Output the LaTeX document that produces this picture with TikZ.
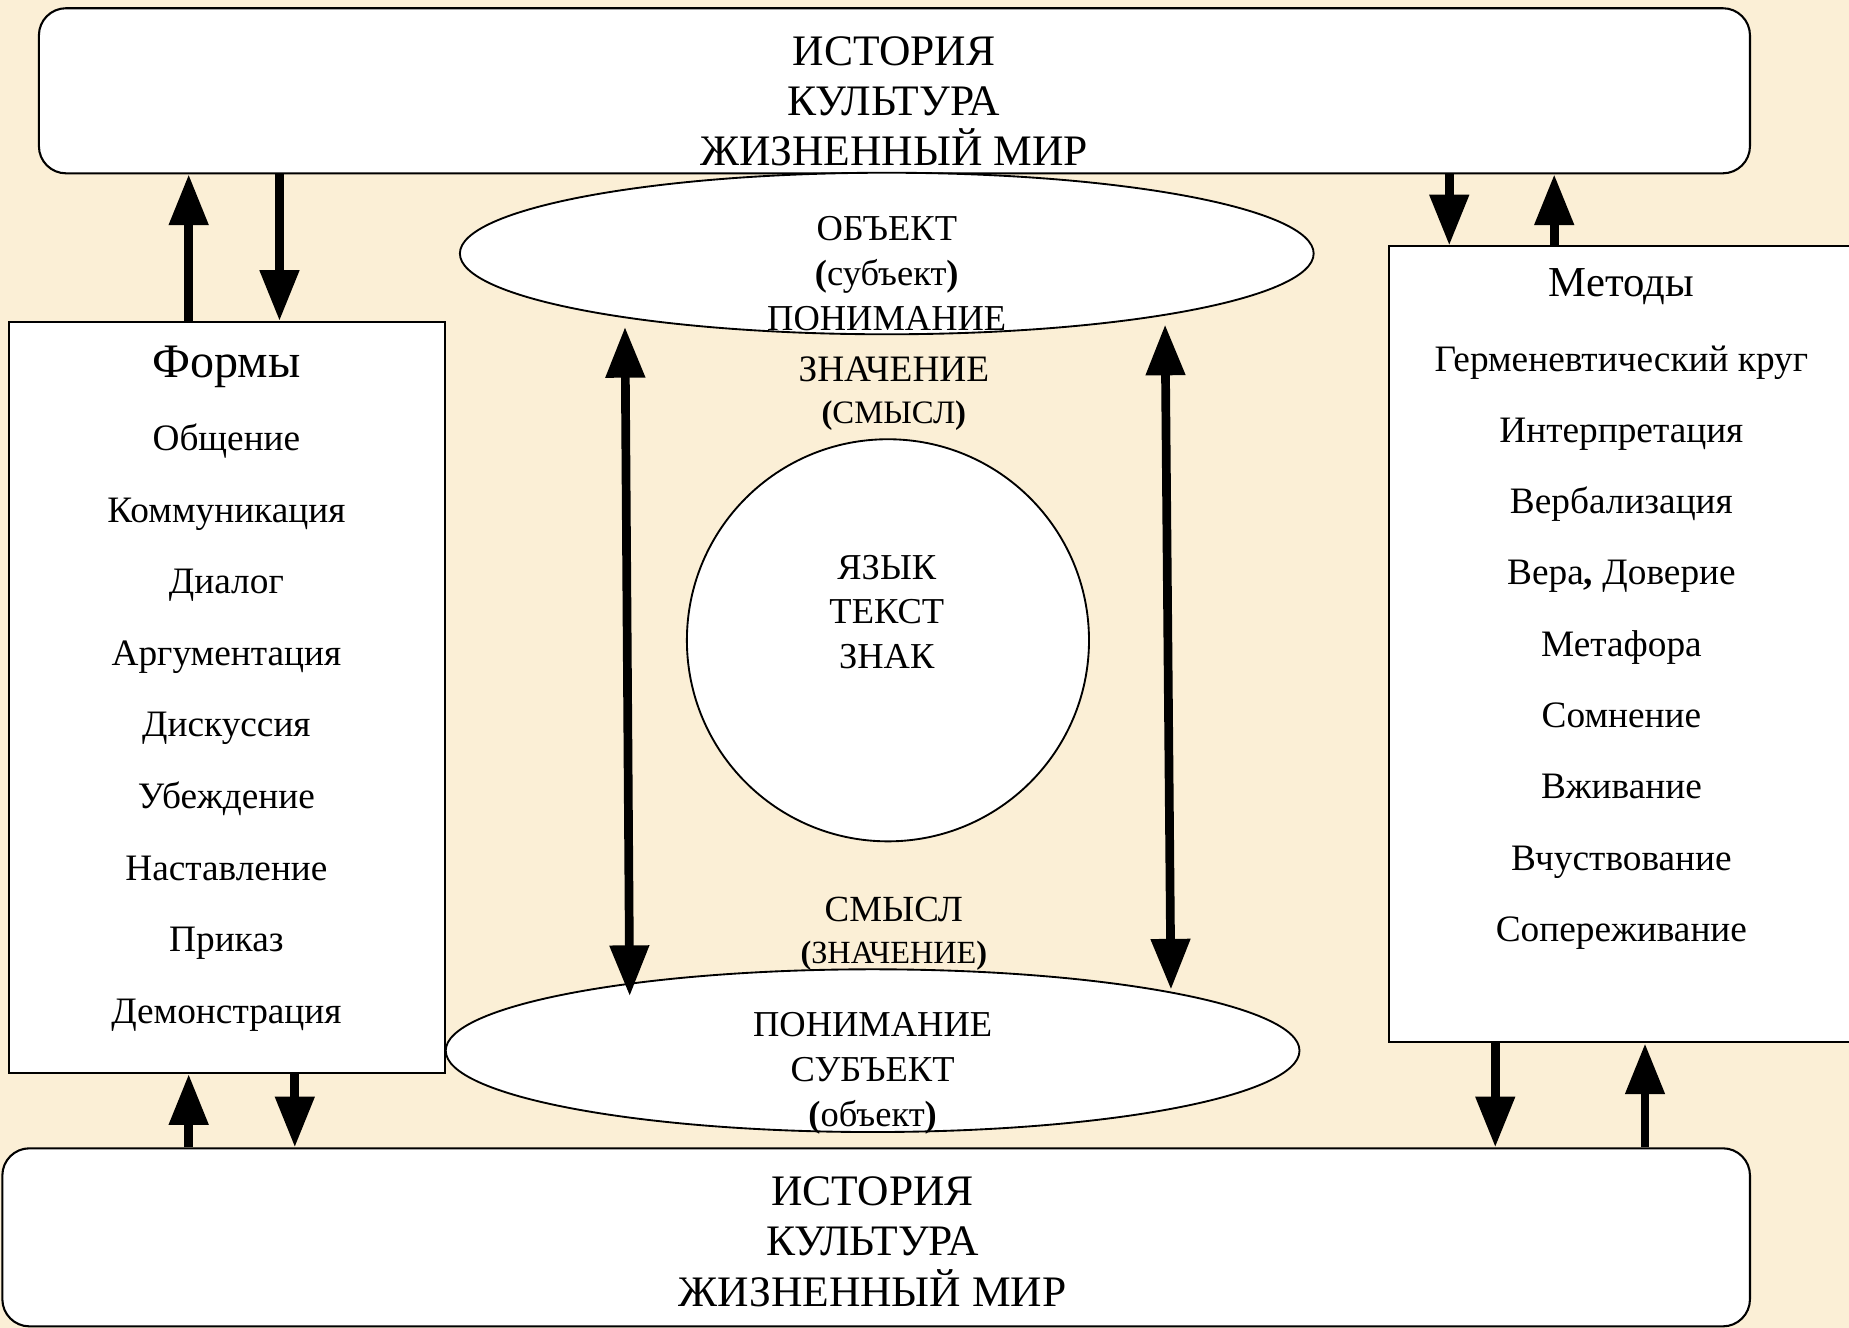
\documentclass[tikz,border=0pt]{standalone}
\usepackage{fontspec}
\setmainfont{Liberation Serif}
\usetikzlibrary{arrows.meta, shapes.geometric}
\definecolor{fon}{RGB}{251,239,214}

\begin{document}
\begin{tikzpicture}[
	blok/.style={draw, line width=0.5pt, fill=white, rounded corners=0.23cm, inner sep=0pt},
	kadr/.style={draw, line width=0.5pt, fill=white, inner sep=0pt},
	oval/.style={draw, ellipse, line width=0.45pt, fill=white, inner sep=0pt, minimum width=7.24cm, minimum height=1.37cm},
	tekst/.style={align=center, inner sep=0pt, font=\fontsize{8.8}{10.8}\selectfont},
	strelka/.style={line width=2.1pt, -{Triangle[length=0.43cm,width=0.32cm]}},
	dvoinaya/.style={strelka, {Triangle[length=0.43cm,width=0.32cm]}-{Triangle[length=0.43cm,width=0.32cm]}}
	]
			
			% Фон
			\fill[fon] (0,0) rectangle (15.68,11.26);
			\useasboundingbox (0,0) rectangle (15.68,11.26);
			
			% Блоки
			\node[blok, minimum width=14.51cm, minimum height=1.40cm] (IV) at (7.585,10.49) {};
			\node[blok, minimum width=14.82cm, minimum height=1.51cm] (IN) at (7.43,0.767) {};
			\node[kadr, minimum width=3.69cm, minimum height=6.37cm] (F) at (1.925,5.345) {};
			\node[kadr, minimum width=4.4cm, minimum height=6.75cm] (M) at (13.98,5.795) {};
			
			% Овалы и круг
			\node[oval] (O) at (7.52,9.11) {};
			\node[oval, minimum height=1.38cm] (S) at (7.40,2.35) {};
			\node[draw, circle, fill=white, line width=0.45pt, minimum size=3.41cm, inner sep=0pt] (Y) at (7.53,5.83) {};
			
			% Надписи
			\node[tekst, font=\fontsize{10.5}{12.1}\selectfont] (IVt) at (7.58,10.40) {ИСТОРИЯ\\КУЛЬТУРА\\ЖИЗНЕННЫЙ МИР};
			\node[tekst, font=\fontsize{10.5}{12.1}\selectfont] (INt) at (7.40,0.73) {ИСТОРИЯ\\КУЛЬТУРА\\ЖИЗНЕННЫЙ МИР};
			\node[tekst] (Ot) at (7.52,8.94) {ОБЪЕКТ\\\textbf{(}субъект\textbf{)}\\ПОНИМАНИЕ};
			\node[tekst, font=\fontsize{9}{10.2}\selectfont] (Z1) at (7.58,7.92) {ЗНАЧЕНИЕ\\{\fontsize{7.9}{10.2}\selectfont\textbf{(}СМЫСЛ\textbf{)}}};
			\node[tekst] (Yt) at (7.52,6.07) {ЯЗЫК\\ТЕКСТ\\ЗНАК};
			\node[tekst, font=\fontsize{8.9}{10}\selectfont] (Z2) at (7.58,3.34) {СМЫСЛ\\{\fontsize{7.8}{10}\selectfont\textbf{(}ЗНАЧЕНИЕ\textbf{)}}};
			\node[tekst] (St) at (7.40,2.16) {ПОНИМАНИЕ\\СУБЪЕКТ\\\textbf{(}объект\textbf{)}};
			
			% Формы
			\node[tekst, font=\fontsize{11.6}{13}\selectfont] (Ft) at (1.92,8.15) {Формы};
			\node[tekst, font=\fontsize{9}{17.27}\selectfont] (Fs) at (1.92,5.09) {Общение\\Коммуникация\\Диалог\\Аргументация\\Дискуссия\\Убеждение\\Наставление\\Приказ\\Демонстрация};
			
			% Методы
			\node[tekst, font=\fontsize{10.3}{12}\selectfont] (Mt) at (13.75,8.83) {Методы};
			\node[tekst, font=\fontsize{9}{17.2}\selectfont] (Ms) at (13.75,5.77) {Герменевтический  круг\\Интерпретация\\Вербализация\\Вера\textbf{,} Доверие\\Метафора\\Сомнение\\Вживание\\Вчуствование\\Сопереживание};
			
			% Стрелки слева
			\draw[strelka] (F.north -| 1.60,0) -- (IV.south -| 1.60,0);
			\draw[strelka] (IV.south -| 2.37,0) -- (F.north -| 2.37,0);
			\draw[strelka] (IN.north -| 1.60,0) -- (F.south -| 1.60,0);
			\draw[strelka] (F.south -| 2.50,0) -- (IN.north -| 2.50,0);
			
			% Стрелки справа
			\draw[strelka] (IV.south -| 12.29,0) -- (M.north -| 12.29,0);
			\draw[strelka] (M.north -| 13.18,0) -- (IV.south -| 13.18,0);
			\draw[strelka] (M.south -| 12.68,0) -- (IN.north -| 12.68,0);
			\draw[strelka] (IN.north -| 13.95,0) -- (M.south -| 13.95,0);
			
			% Стрелки в центре
			\draw[dvoinaya] ([xshift=-2.22cm, yshift=0.07cm]O.south) -- ([xshift=-2.06cm, yshift=-0.235cm]S.north);
			\draw[dvoinaya] ([xshift=2.36cm, yshift=0.09cm]O.south) -- ([xshift=2.53cm, yshift=-0.18cm]S.north);
			
		\end{tikzpicture}
\end{document}
